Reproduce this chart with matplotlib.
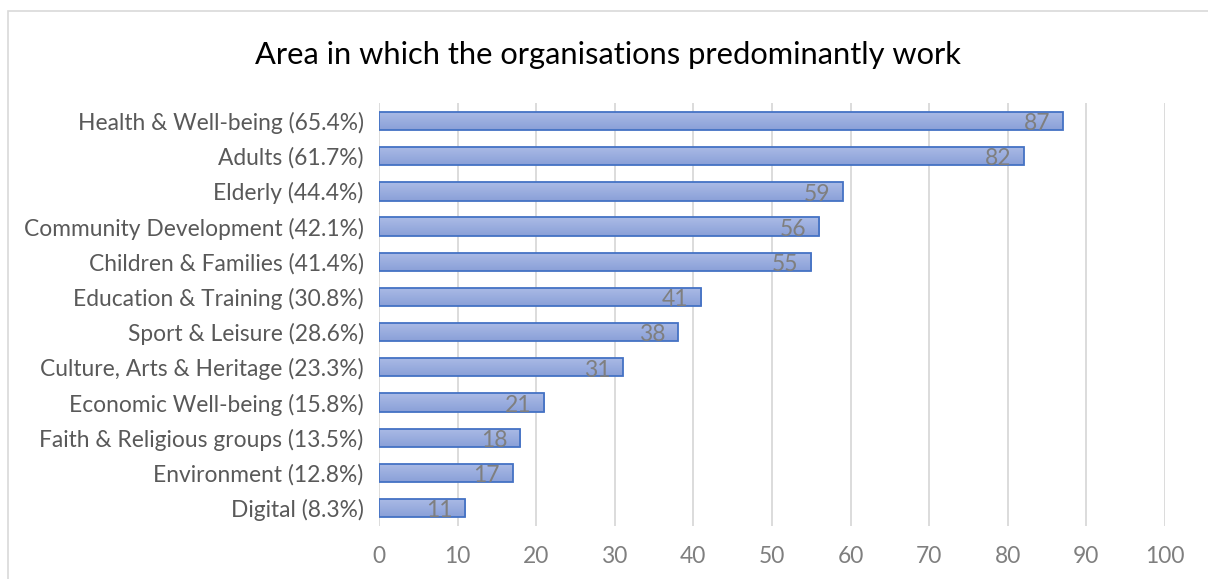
import numpy as np
import matplotlib.pyplot as plt
from matplotlib.patches import Rectangle

plt.rcParams["font.family"] = ["Lato", "DejaVu Sans"]

categories = [
    "Health & Well-being (65.4%)",
    "Adults (61.7%)",
    "Elderly (44.4%)",
    "Community Development (42.1%)",
    "Children & Families (41.4%)",
    "Education & Training (30.8%)",
    "Sport & Leisure (28.6%)",
    "Culture, Arts & Heritage (23.3%)",
    "Economic Well-being (15.8%)",
    "Faith & Religious groups (13.5%)",
    "Environment (12.8%)",
    "Digital (8.3%)",
]
counts = [87, 82, 59, 56, 55, 41, 38, 31, 21, 18, 17, 11]
xticks = list(range(0, 101, 10))

fig = plt.figure(figsize=(12.08, 5.79), dpi=100)
ax = fig.add_axes([0.3137, 0.0922, 0.6507, 0.7292])

# chart border (only top/left visible in the original crop)
fig.patches.append(Rectangle((8 / 1208, -0.1), 1.2, 1.1 - 11 / 579,
                             transform=fig.transFigure, fill=False,
                             edgecolor="#d9d9d9", lw=1.2))

y = np.arange(len(categories))
bars = ax.barh(y, counts, height=0.52, color="none", edgecolor="#4472c4",
               linewidth=1.3, zorder=3)

# vertical gradient fill for each bar
grad = np.linspace(0, 1, 64).reshape(-1, 1)
cmap = plt.matplotlib.colors.LinearSegmentedColormap.from_list(
    "g", ["#abbbe6", "#8aa0d8"])
for b in bars:
    x0, y0 = b.get_x(), b.get_y()
    w, h = b.get_width(), b.get_height()
    im = ax.imshow(grad, extent=(x0, x0 + w, y0 + h, y0), aspect="auto",
                   cmap=cmap, zorder=2, interpolation="bilinear")
    im.set_clip_path(b)

for yi, c in zip(y, counts):
    ax.annotate(str(c), (c, yi), xytext=(-9, -2), textcoords="offset points",
                ha="right", va="center", color="#7f7f7f", fontsize=16.5, zorder=4)

ax.set_ylim(len(categories) - 0.5, -0.5)
ax.set_xlim(0, 100)
ax.set_yticks(y, categories)
ax.set_xticks(xticks)
ax.tick_params(axis="y", length=0, pad=11, labelsize=16.4, labelcolor="#595959")
ax.tick_params(axis="x", length=0, pad=15, labelsize=16.4, labelcolor="#7f7f7f")
ax.grid(axis="x", color="#d9d9d9", lw=1.3, zorder=0)
ax.set_axisbelow(True)
for s in ax.spines.values():
    s.set_visible(False)

fig.text(0.5 * (8 / 1208 + 1), 1 - 55 / 579, "Area in which the organisations predominantly work",
         ha="center", va="center", fontsize=22.2, color="#000000")

fig.savefig("out.png", dpi=100)
